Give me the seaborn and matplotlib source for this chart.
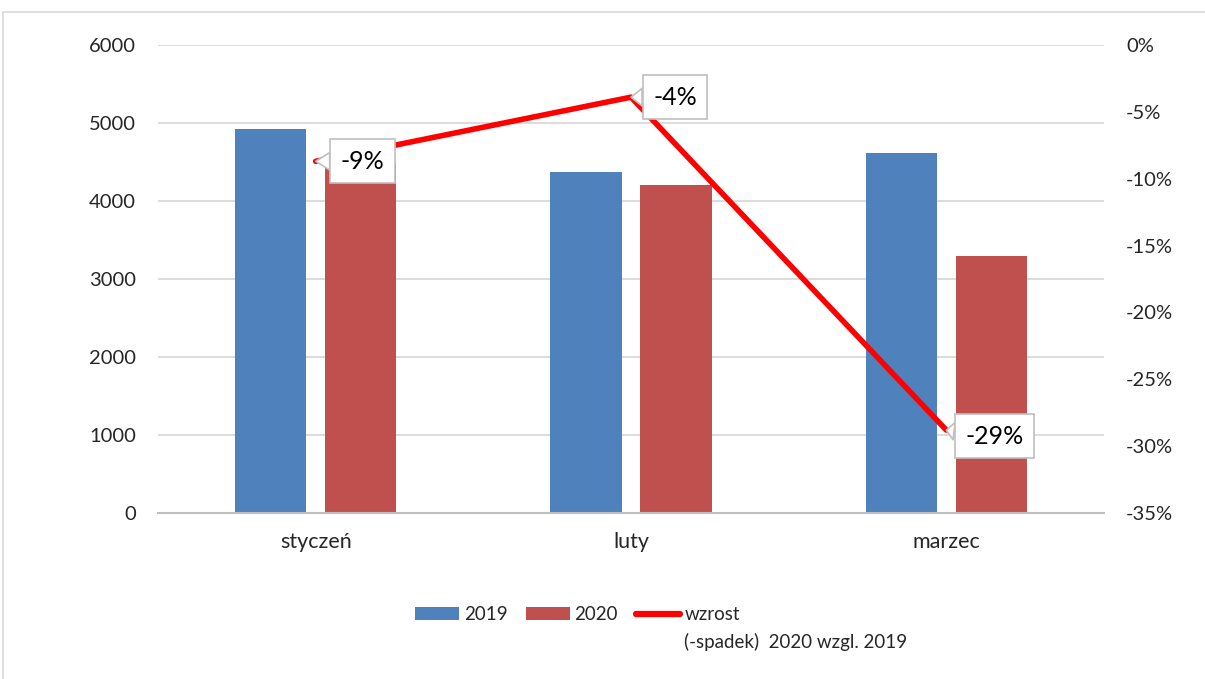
import numpy as np
import pandas as pd
import matplotlib
matplotlib.use("Agg")
import matplotlib.pyplot as plt
from matplotlib.lines import Line2D
from matplotlib.ticker import FuncFormatter
import seaborn as sns

# dane
miesiace = ["styczeń", "luty", "marzec"]
lata = ["2019", "2020"]
wartosci_2019 = [4920, 4375, 4620]
wartosci_2020 = [4490, 4205, 3295]
zmiana = [-0.087, -0.039, -0.288]
opis_zmiany = ["wzrost", "(-spadek)  2020 wzgl. 2019"]

NIEBIESKI = "#4F81BD"
CZERWONY = "#C0504D"
LINIA = "#FF0000"
SIATKA = "#D9D9D9"
TEKST = "#262626"

sns.set_style("white")
plt.rcParams["font.family"] = ["Lato", "DejaVu Sans"]

df = pd.DataFrame({
    "miesiac": miesiace * 2,
    "rok": [lata[0]] * 3 + [lata[1]] * 3,
    "wartosc": wartosci_2019 + wartosci_2020,
})

fig = plt.figure(figsize=(12.05, 6.79), dpi=100)
ax = fig.add_axes([158 / 1205, 1 - 513 / 679, (1104 - 158) / 1205, (513 - 45) / 679])

sns.barplot(data=df, x="miesiac", y="wartosc", hue="rok", palette=[NIEBIESKI, CZERWONY],
            width=0.571, gap=0.21, saturation=1, linewidth=0, ax=ax, errorbar=None)
uchwyty, etykiety = ax.get_legend_handles_labels()
ax.get_legend().remove()

ax.set_ylim(0, 6000)
ax.set_yticks(np.arange(0, 6001, 1000))
ax.set_xlim(-0.5, 2.5)
ax.set_xlabel("")
ax.set_ylabel("")
ax.grid(axis="y", color=SIATKA, linewidth=1.3)
ax.set_axisbelow(True)
for s in ["top", "right", "left"]:
    ax.spines[s].set_visible(False)
ax.spines["bottom"].set_color("#BFBFBF")
ax.spines["bottom"].set_linewidth(1.5)
ax.tick_params(axis="y", length=0, labelsize=14.5, colors=TEKST, pad=16)
ax.tick_params(axis="x", length=0, labelsize=15.5, colors=TEKST, pad=14)

# os prawa - zmiana procentowa
ax2 = ax.twinx()
sns.lineplot(x=miesiace, y=zmiana, color=LINIA, linewidth=4, ax=ax2, sort=False)
ax2.set_ylim(-0.35, 0)
ax2.set_yticks(np.arange(-0.35, 0.001, 0.05))
ax2.yaxis.set_major_formatter(FuncFormatter(lambda v, _: f"{v * 100:.0f}%".replace("-0%", "0%")))
ax2.tick_params(axis="y", length=0, labelsize=14.5, colors=TEKST, pad=16)
ax2.set_ylabel("")
for s in ax2.spines.values():
    s.set_visible(False)
ax2.grid(False)

# dymki z etykietami
przesuniecia = [(47, 0), (44, 0), (48, -6)]
for i, (m, z) in enumerate(zip(miesiace, zmiana)):
    ax2.annotate(f"{z * 100:.0f}%", xy=(i, z), xytext=przesuniecia[i], textcoords="offset pixels",
                 ha="center", va="center", fontsize=18, color="black",
                 bbox=dict(boxstyle="square,pad=0.42", fc="white", ec="#BFBFBF", lw=1.2),
                 arrowprops=dict(arrowstyle="wedge,tail_width=0.7,shrink_factor=0.5",
                                 fc="white", ec="#BFBFBF", lw=1.2, shrinkA=0, shrinkB=0),
                 zorder=5)

uchwyt_linii = Line2D([0], [0], color=LINIA, linewidth=4.5, solid_capstyle="round")
leg = fig.legend(uchwyty + [uchwyt_linii], etykiety + [opis_zmiany[0]], ncol=3,
                 loc="upper left", bbox_to_anchor=(406 / 1205, 1 - 597 / 679), frameon=False,
                 fontsize=13.5, handlelength=2.35, handletextpad=0.25, columnspacing=0.95,
                 borderpad=0, labelcolor=TEKST)

# druga linia opisu pod "wzrost"
fig.canvas.draw()
bb = leg.get_texts()[2].get_window_extent()
fig.text(bb.x0 / 1205, (bb.y0 - 28) / 679, opis_zmiany[1], fontsize=13.5, color=TEKST,
         ha="left", va="bottom")

# ramka obszaru wykresu
fig.add_artist(Line2D([3 / 1205, 3 / 1205], [0, 1 - 12 / 679], transform=fig.transFigure,
                      color="#D9D9D9", linewidth=1.2))
fig.add_artist(Line2D([3 / 1205, 1], [1 - 12 / 679, 1 - 12 / 679], transform=fig.transFigure,
                      color="#D9D9D9", linewidth=1.2))

fig.savefig("out.png", dpi=100)
